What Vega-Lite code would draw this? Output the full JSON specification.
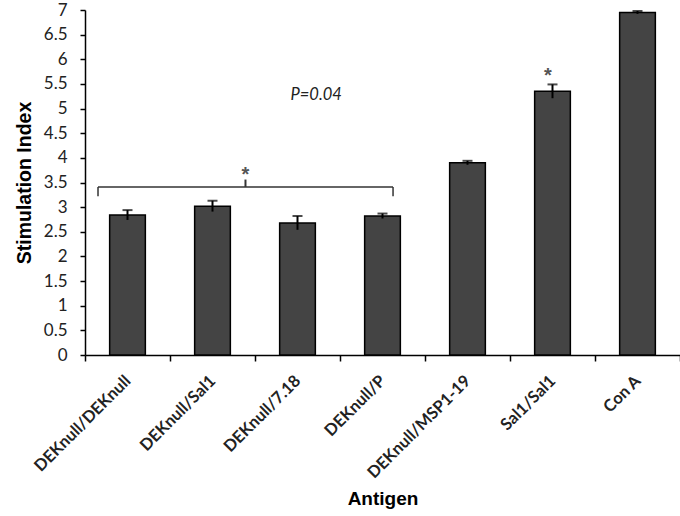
{
  "$schema": "https://vega.github.io/schema/vega-lite/v6.json",
  "width": 595,
  "height": 345,
  "autosize": {"type": "none"},
  "padding": {"left": 85, "top": 10, "right": 0, "bottom": 161},
  "background": "white",
  "config": {
    "view": {"stroke": null},
    "axis": {"grid": false, "domainColor": "black", "tickColor": "black", "domainWidth": 1.5, "tickWidth": 1.5, "labelColor": "#222222", "titleColor": "black"}
  },
  "datasets": {
    "bars": [
      {"antigen": "DEKnull/DEKnull", "value": 2.84, "lower": 2.74, "upper": 2.94},
      {"antigen": "DEKnull/Sal1", "value": 3.02, "lower": 2.91, "upper": 3.13},
      {"antigen": "DEKnull/7.18", "value": 2.68, "lower": 2.54, "upper": 2.82},
      {"antigen": "DEKnull/P", "value": 2.82, "lower": 2.77, "upper": 2.87},
      {"antigen": "DEKnull/MSP1-19", "value": 3.9, "lower": 3.86, "upper": 3.94},
      {"antigen": "Sal1/Sal1", "value": 5.35, "lower": 5.21, "upper": 5.49},
      {"antigen": "Con A", "value": 6.95, "lower": 6.92, "upper": 6.98}
    ],
    "bracket": [
      {"from": "DEKnull/DEKnull", "to": "DEKnull/P", "mid": "DEKnull/Sal1", "y": 3.41, "yEnd": 3.22, "yTop": 3.56}
    ],
    "stars": [
      {"antigen": "DEKnull/Sal1", "y": 3.75, "label": "*"}
    ],
    "stars2": [
      {"antigen": "Sal1/Sal1", "y": 5.77, "label": "*"}
    ],
    "pvalue": [
      {"antigen": "DEKnull/7.18", "y": 5.28, "label": "P=0.04"}
    ]
  },
  "layer": [
    {
      "data": {"name": "bars"},
      "mark": {"type": "bar", "width": {"band": 0.42}, "fill": "#444444", "stroke": "black", "strokeWidth": 1.5},
      "encoding": {
        "x": {
          "field": "antigen", "type": "nominal",
          "scale": {"domain": ["DEKnull/DEKnull", "DEKnull/Sal1", "DEKnull/7.18", "DEKnull/P", "DEKnull/MSP1-19", "Sal1/Sal1", "Con A"], "paddingInner": 0, "paddingOuter": 0},
          "axis": {
            "title": "Antigen", "titleFont": "Liberation Sans", "titleFontWeight": "bold", "titleFontSize": 19, "titlePadding": 8,
            "labelAngle": -45, "labelAlign": "right", "labelBaseline": "middle", "labelFont": "Lato", "labelFontWeight": "bold", "labelFontSize": 16.5, "labelPadding": 17, "labelOffset": 0,
            "labelOverlap": false, "tickBand": "extent", "tickSize": 6
          }
        },
        "y": {
          "field": "value", "type": "quantitative",
          "scale": {"domain": [0, 7], "nice": false},
          "axis": {
            "title": "Stimulation Index", "titleFont": "Liberation Sans", "titleFontWeight": "bold", "titleFontSize": 19.5, "titlePadding": 9,
            "tickCount": 14, "labelExpr": "format(datum.value, '~g')",
            "labelOverlap": false, "labelFlush": false,
            "labelFont": "Lato", "labelFontSize": 17, "labelPadding": 13, "tickSize": 5
          }
        }
      }
    },
    {
      "data": {"name": "bars"},
      "mark": {"type": "rule", "color": "black", "strokeWidth": 2, "clip": false},
      "encoding": {
        "x": {"field": "antigen", "type": "nominal"},
        "y": {"field": "lower", "type": "quantitative"},
        "y2": {"field": "upper"}
      }
    },
    {
      "data": {"name": "bars"},
      "mark": {"type": "tick", "orient": "horizontal", "size": 10, "thickness": 2, "color": "black", "clip": false},
      "encoding": {
        "x": {"field": "antigen", "type": "nominal"},
        "y": {"field": "upper", "type": "quantitative"}
      }
    },
    {
      "data": {"name": "bracket"},
      "mark": {"type": "rule", "color": "#333333", "strokeWidth": 1.5},
      "encoding": {
        "x": {"field": "from", "type": "nominal", "bandPosition": 0.153},
        "x2": {"field": "to", "bandPosition": 0.624},
        "y": {"field": "y", "type": "quantitative"}
      }
    },
    {
      "data": {"name": "bracket"},
      "mark": {"type": "rule", "color": "#333333", "strokeWidth": 1.5},
      "encoding": {
        "x": {"field": "from", "type": "nominal", "bandPosition": 0.153},
        "y": {"field": "y", "type": "quantitative"},
        "y2": {"field": "yEnd"}
      }
    },
    {
      "data": {"name": "bracket"},
      "mark": {"type": "rule", "color": "#333333", "strokeWidth": 1.5},
      "encoding": {
        "x": {"field": "to", "type": "nominal", "bandPosition": 0.624},
        "y": {"field": "y", "type": "quantitative"},
        "y2": {"field": "yEnd"}
      }
    },
    {
      "data": {"name": "bracket"},
      "mark": {"type": "rule", "color": "#333333", "strokeWidth": 2},
      "encoding": {
        "x": {"field": "mid", "type": "nominal", "bandPosition": 0.888},
        "y": {"field": "y", "type": "quantitative"},
        "y2": {"field": "yTop"}
      }
    },
    {
      "data": {"name": "stars"},
      "mark": {"type": "text", "font": "Liberation Sans", "fontSize": 20, "fontWeight": "bold", "color": "#555555", "baseline": "middle", "dy": 5},
      "encoding": {
        "x": {"field": "antigen", "type": "nominal", "bandPosition": 0.888},
        "y": {"field": "y", "type": "quantitative"},
        "text": {"field": "label"}
      }
    },
    {
      "data": {"name": "stars2"},
      "mark": {"type": "text", "font": "Liberation Sans", "fontSize": 20, "fontWeight": "bold", "color": "#555555", "baseline": "middle", "dy": 5},
      "encoding": {
        "x": {"field": "antigen", "type": "nominal", "bandPosition": 0.447},
        "y": {"field": "y", "type": "quantitative"},
        "text": {"field": "label"}
      }
    },
    {
      "data": {"name": "pvalue"},
      "mark": {"type": "text", "font": "Lato", "fontSize": 16.5, "fontStyle": "italic", "color": "#222222", "baseline": "middle"},
      "encoding": {
        "x": {"field": "antigen", "type": "nominal", "bandPosition": 0.72},
        "y": {"field": "y", "type": "quantitative"},
        "text": {"field": "label"}
      }
    }
  ]
}
